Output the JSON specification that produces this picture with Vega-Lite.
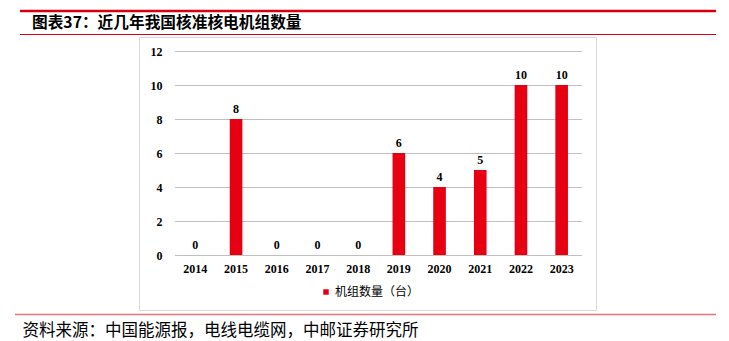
{
  "$schema": "https://vega.github.io/schema/vega-lite/v6.json",
  "width": 407,
  "height": 204,
  "autosize": {"type": "none"},
  "padding": {"left": 175, "top": 51, "right": 147, "bottom": 86},
  "background": "white",
  "config": {
    "view": {"stroke": null},
    "axisY": {
      "title": null,
      "values": [0, 2, 4, 6, 8, 10, 12],
      "labelOverlap": false,
      "labelFont": "Liberation Serif",
      "labelFontSize": 12,
      "labelFontWeight": "bold",
      "labelColor": "#000000",
      "labelPadding": 13,
      "ticks": false,
      "domain": false,
      "grid": false
    },
    "axisX": {
      "labelAngle": 0,
      "labelFont": "Liberation Serif",
      "labelFontSize": 12,
      "labelFontWeight": "bold",
      "labelColor": "#000000",
      "labelPadding": 8,
      "ticks": false,
      "domain": false,
      "grid": false
    }
  },
  "title": {
    "text": "图表37：近几年我国核准核电机组数量",
    "anchor": "start",
    "frame": "group",
    "orient": "top",
    "dx": -143,
    "offset": -29,
    "baseline": "middle",
    "font": "Noto Sans CJK SC",
    "fontSize": 15.7,
    "fontWeight": "bold",
    "color": "#000000"
  },
  "datasets": {
    "units": [
      {"year": "2014", "count": 0, "series": "机组数量（台）"},
      {"year": "2015", "count": 8, "series": "机组数量（台）"},
      {"year": "2016", "count": 0, "series": "机组数量（台）"},
      {"year": "2017", "count": 0, "series": "机组数量（台）"},
      {"year": "2018", "count": 0, "series": "机组数量（台）"},
      {"year": "2019", "count": 6, "series": "机组数量（台）"},
      {"year": "2020", "count": 4, "series": "机组数量（台）"},
      {"year": "2021", "count": 5, "series": "机组数量（台）"},
      {"year": "2022", "count": 10, "series": "机组数量（台）"},
      {"year": "2023", "count": 10, "series": "机组数量（台）"}
    ],
    "gridvals": [{"v": 0}, {"v": 2}, {"v": 4}, {"v": 6}, {"v": 8}, {"v": 10}, {"v": 12}],
    "deco": [{"k": 1}]
  },
  "layer": [
    {
      "data": {"name": "deco"},
      "mark": {"type": "rect", "filled": false, "stroke": "#d9d9d9", "strokeWidth": 1},
      "encoding": {
        "x": {"value": -35.5},
        "x2": {"value": 421.5},
        "y": {"value": -13.5},
        "y2": {"value": 259.5}
      }
    },
    {
      "data": {"name": "deco"},
      "mark": {"type": "rule", "stroke": "#d7000f", "strokeWidth": 2.5},
      "encoding": {
        "x": {"value": -155},
        "x2": {"value": 541},
        "y": {"value": -40}
      }
    },
    {
      "data": {"name": "deco"},
      "mark": {"type": "rule", "stroke": "#d7000f", "strokeWidth": 1},
      "encoding": {
        "x": {"value": -155},
        "x2": {"value": 541},
        "y": {"value": -16.5}
      }
    },
    {
      "data": {"name": "deco"},
      "mark": {"type": "rule", "stroke": "#e57373", "strokeWidth": 1.5},
      "encoding": {
        "x": {"value": -160},
        "x2": {"value": 541},
        "y": {"value": 263.5}
      }
    },
    {
      "data": {"name": "gridvals"},
      "mark": {"type": "rule", "stroke": "#c0c0c0", "strokeWidth": 1, "yOffset": 0.5, "opacity": 1},
      "encoding": {
        "x": {"value": 0},
        "x2": {"value": 407},
        "y": {
          "field": "v",
          "type": "quantitative",
          "scale": {"domain": [0, 12], "nice": false},
          "axis": {"title": null, "values": [0, 2, 4, 6, 8, 10, 12]}
        }
      }
    },
    {
      "data": {"name": "units"},
      "mark": {"type": "bar", "clip": false},
      "encoding": {
        "x": {
          "field": "year",
          "type": "ordinal",
          "scale": {"paddingInner": 0.69, "paddingOuter": 0.345},
          "axis": {
            "title": "资料来源：中国能源报，电线电缆网，中邮证券研究所",
            "titleX": -153,
            "titleY": 75,
            "titleAlign": "left",
            "titleBaseline": "middle",
            "titleFont": "Noto Sans CJK SC",
            "titleFontSize": 16.5,
            "titleFontWeight": "normal",
            "titleColor": "#000000"
          }
        },
        "y": {
          "field": "count",
          "type": "quantitative",
          "scale": {"domain": [0, 12], "nice": false},
          "axis": {"title": null, "values": [0, 2, 4, 6, 8, 10, 12]}
        },
        "color": {
          "field": "series",
          "type": "nominal",
          "scale": {"range": ["#e60012"]},
          "legend": {
            "title": null,
            "orient": "none",
            "legendX": 145,
            "legendY": 235,
            "symbolType": "square",
            "symbolSize": 30,
            "symbolStrokeWidth": 0,
            "labelFont": "Noto Sans CJK SC",
            "labelFontSize": 12,
            "labelColor": "#000000",
            "labelOffset": 3
          }
        }
      }
    },
    {
      "data": {"name": "units"},
      "mark": {
        "type": "text",
        "baseline": "alphabetic",
        "dy": -6,
        "font": "Liberation Serif",
        "fontSize": 12,
        "fontWeight": "bold",
        "color": "#000000"
      },
      "encoding": {
        "x": {"field": "year", "type": "ordinal"},
        "y": {
          "field": "count",
          "type": "quantitative",
          "axis": {"title": null, "values": [0, 2, 4, 6, 8, 10, 12]}
        },
        "text": {"field": "count", "type": "quantitative"}
      }
    }
  ]
}
